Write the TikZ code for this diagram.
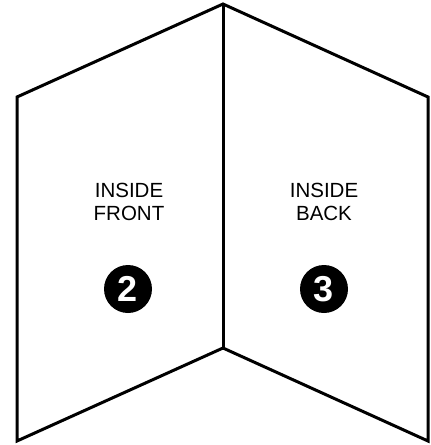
\documentclass[tikz,border=0pt]{standalone}
\usepackage{fontspec}
\setmainfont{Liberation Sans}
\begin{document}
\begin{tikzpicture}[x=1pt,y=-1pt,
  panel/.style={draw=black,line width=3pt,line join=miter,fill=white},
  label/.style={align=center,font=\fontsize{20.5}{23.5}\selectfont,inner sep=0pt},
  badge/.style={circle,fill=black,minimum size=48pt,inner sep=0pt,text=white,font=\fontsize{36}{36}\selectfont\bfseries}]
\useasboundingbox (0,0) rectangle (431,445);
\coordinate (apex) at (223,4);
\coordinate (lt) at (17,97);
\coordinate (rt) at (428,97);
\coordinate (lb) at (17,441);
\coordinate (rb) at (428,441);
\coordinate (cb) at (223,348);
\draw[panel] (apex) -- (lt) -- (lb) -- (cb) -- (rb) -- (rt) -- cycle;
\draw[panel] (apex) -- (cb);
\node[label] (front) at (129,202) {INSIDE\\FRONT};
\node[label] (back) at (324,202) {INSIDE\\BACK};
\node[badge] (two) at (128,289) {2};
\node[badge] (three) at (324,289) {3};
\end{tikzpicture}
\end{document}
